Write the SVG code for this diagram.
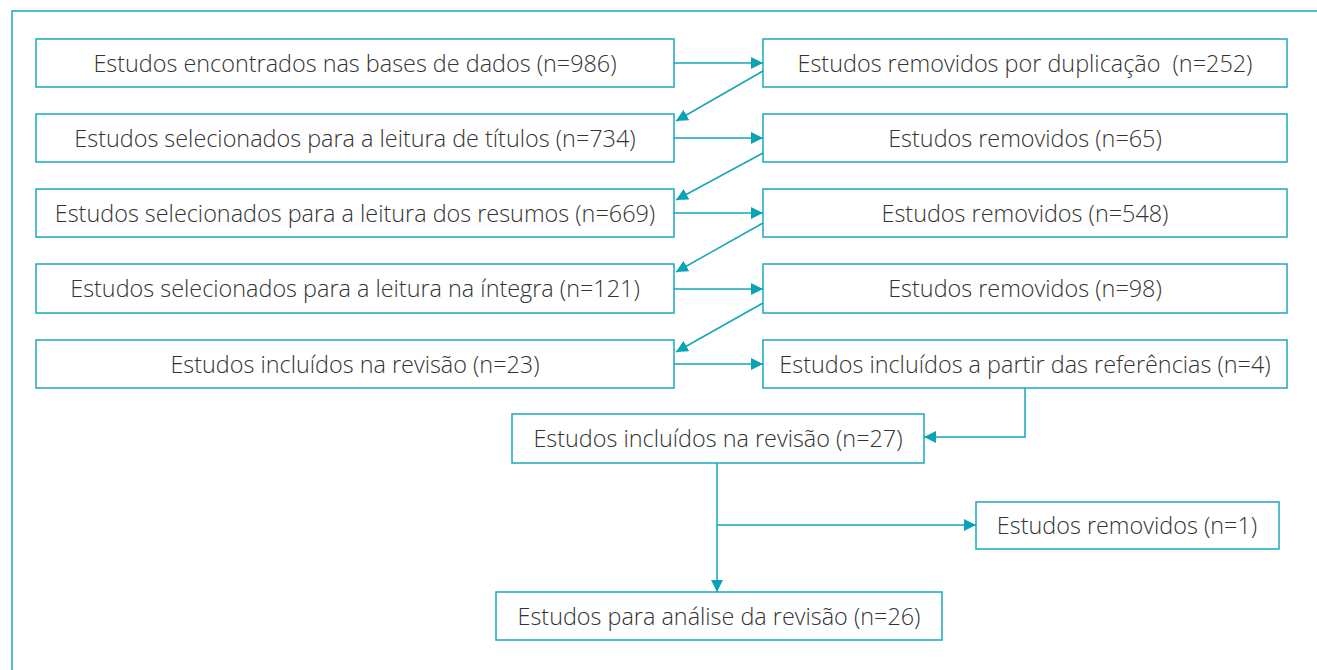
<svg xmlns="http://www.w3.org/2000/svg" width="1317" height="670" viewBox="0 0 1317 670">
<defs>
<style>
.box{fill:#fff;stroke:#1aa9bd;stroke-width:1.5}
.t{font-family:"Open Sans","Liberation Sans",sans-serif;font-size:23.4px;font-weight:300;fill:#333;text-anchor:middle;dominant-baseline:central}
.c{fill:none;stroke:#13a5b8;stroke-width:1.5}
</style>
<marker id="ah" viewBox="0 0 10 10" refX="10" refY="5" markerWidth="12" markerHeight="12" markerUnits="userSpaceOnUse" orient="auto">
<path d="M0,0 L10,5 L0,10 z" fill="#0aa2b5"/>
</marker>
</defs>
<rect width="1317" height="670" fill="#fff"/>
<path d="M12,670 V11 H1317" fill="none" stroke="#1aa9bd" stroke-width="1.5"/>
<g id="n1"><rect class="box" x="36" y="39" width="638" height="48"/><text class="t" x="355" y="63">Estudos encontrados nas bases de dados (n=986)</text></g>
<g id="n2"><rect class="box" x="763" y="39" width="524" height="48"/><text class="t" x="1025" y="63" style="white-space:pre">Estudos removidos por duplicação  (n=252)</text></g>
<g id="n3"><rect class="box" x="36" y="114" width="638" height="48"/><text class="t" x="355" y="138">Estudos selecionados para a leitura de títulos (n=734)</text></g>
<g id="n4"><rect class="box" x="763" y="114" width="524" height="48"/><text class="t" x="1025" y="138">Estudos removidos (n=65)</text></g>
<g id="n5"><rect class="box" x="36" y="189" width="638" height="48"/><text class="t" x="355" y="213">Estudos selecionados para a leitura dos resumos (n=669)</text></g>
<g id="n6"><rect class="box" x="763" y="189" width="524" height="48"/><text class="t" x="1025" y="213">Estudos removidos (n=548)</text></g>
<g id="n7"><rect class="box" x="36" y="264" width="638" height="49"/><text class="t" x="355" y="288">Estudos selecionados para a leitura na íntegra (n=121)</text></g>
<g id="n8"><rect class="box" x="763" y="264" width="524" height="49"/><text class="t" x="1025" y="288">Estudos removidos (n=98)</text></g>
<g id="n9"><rect class="box" x="36" y="340" width="638" height="48"/><text class="t" x="355" y="364">Estudos incluídos na revisão (n=23)</text></g>
<g id="n10"><rect class="box" x="763" y="340" width="524" height="48"/><text class="t" x="1025" y="364">Estudos incluídos a partir das referências (n=4)</text></g>
<g id="n11"><rect class="box" x="512" y="414" width="412" height="49"/><text class="t" x="718" y="438">Estudos incluídos na revisão (n=27)</text></g>
<g id="n12"><rect class="box" x="976" y="502" width="303" height="47"/><text class="t" x="1127" y="525">Estudos removidos (n=1)</text></g>
<g id="n13"><rect class="box" x="496" y="592" width="446" height="48"/><text class="t" x="719" y="616">Estudos para análise da revisão (n=26)</text></g>
<g id="connectors">
<path class="c" d="M674,63 H763" marker-end="url(#ah)"/>
<path class="c" d="M674,138 H763" marker-end="url(#ah)"/>
<path class="c" d="M674,213 H763" marker-end="url(#ah)"/>
<path class="c" d="M674,289 H763" marker-end="url(#ah)"/>
<path class="c" d="M674,364 H763" marker-end="url(#ah)"/>
<path class="c" d="M763,71 L676,121" marker-end="url(#ah)"/>
<path class="c" d="M763,153 L676,200" marker-end="url(#ah)"/>
<path class="c" d="M763,223 L676,272" marker-end="url(#ah)"/>
<path class="c" d="M763,303 L676,352" marker-end="url(#ah)"/>
<path class="c" d="M1025,388 V437 H924" marker-end="url(#ah)"/>
<path class="c" d="M717,463 V592" marker-end="url(#ah)"/>
<path class="c" d="M717,525 H976" marker-end="url(#ah)"/>
</g>
</svg>
